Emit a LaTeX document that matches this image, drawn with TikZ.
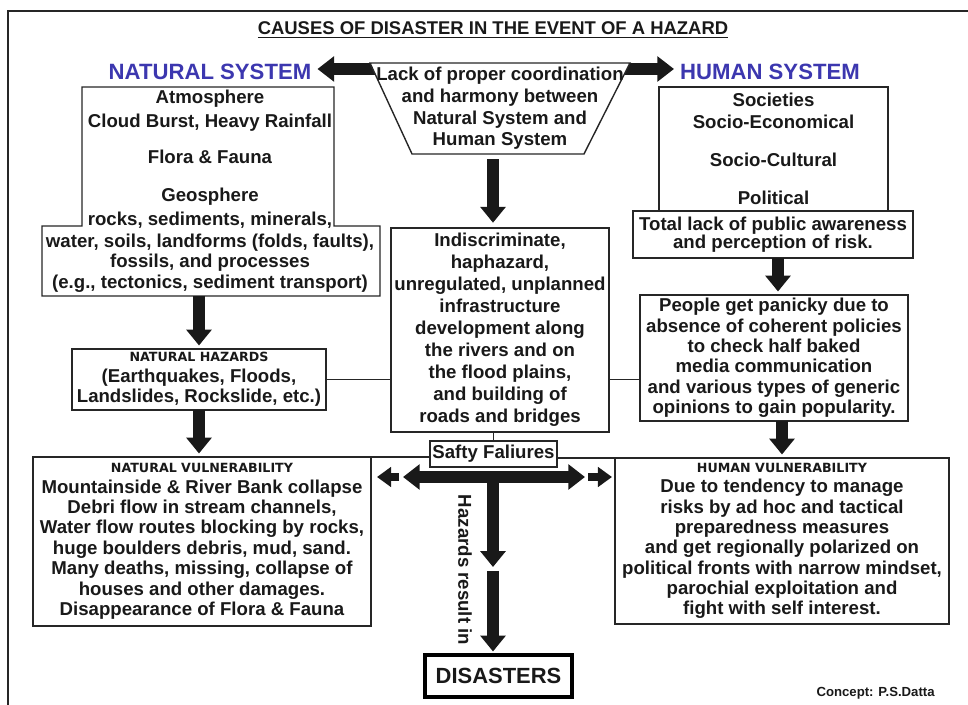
\documentclass[tikz,border=0pt]{standalone}
\usepackage{fontspec}
\setmainfont{Liberation Sans}
\newfontfamily\hdrfont{DejaVu Sans}
\usepackage{graphicx}
\usetikzlibrary{arrows.meta,backgrounds}
\definecolor{sysblue}{RGB}{60,55,175}
\newcommand{\hd}[1]{{\hdrfont\bfseries\fontsize{7.2}{9}\selectfont #1}}
\tikzset{
  txt/.style={align=center,inner sep=0pt,text=black!90,font=\bfseries\fontsize{10.6}{11.6}\selectfont},
  dbox/.style={txt,draw=black!85,line width=0.8pt,fill=white,outer sep=0pt},
  frame/.style={inner sep=0pt,outer sep=0pt},
  thinlink/.style={draw=black!85,line width=0.8pt},
  fatarrow/.style={line width=7pt,black!90,-{Triangle[length=9pt,width=14pt]}},
  fatboth/.style={line width=6.5pt,black!90,{Triangle[length=9.5pt,width=14pt]}-{Triangle[length=9.5pt,width=14pt]}},
  stubarrow/.style={line width=5pt,black!90,-{Triangle[length=8pt,width=11pt]}},
  sysname/.style={text=sysblue,font=\bfseries\fontsize{12.6}{14}\selectfont}
}
\begin{document}
\begin{tikzpicture}[x=0.02cm,y=-0.02cm]
\useasboundingbox (0,0) rectangle (968,705);
\draw[line width=1.2pt,black!85] (8,705) |- (968,11);
\node[txt,font=\bfseries\fontsize{10.5}{12}\selectfont] (title) at (493,30) {\underline{CAUSES OF DISASTER IN THE EVENT OF A HAZARD}};
\node[sysname] (natsys) at (210,72) {NATURAL SYSTEM};
\node[sysname] (humsys) at (770,72) {HUMAN SYSTEM};
% natural system
\node[frame,minimum width=5.04cm,minimum height=2.78cm] (natup) at (208,156.5) {};
\node[frame,minimum width=6.76cm,minimum height=1.4cm] (natlow) at (211,261) {};
\draw[thinlink,fill=white] (natup.north west) -- (natup.north east) -- (natup.south east) -- (natlow.north east) -- (natlow.south east) -- (natlow.south west) -- (natlow.north west) -- (natup.south west) -- cycle;
\node[txt] (natitems) at (210,191) {Atmosphere\\[2pt] Cloud Burst, Heavy Rainfall\\[9pt] Flora \& Fauna\\[10pt] Geosphere\\[2pt] rocks, sediments, minerals,\\[1pt] water, soils, landforms (folds, faults),\\ fossils, and processes\\ (e.g., tectonics, sediment transport)};
\node[dbox,minimum width=5.08cm,minimum height=1.22cm] (nathaz) at (199,379.5) {\hd{NATURAL HAZARDS}\\(Earthquakes, Floods,\\Landslides, Rockslide, etc.)};
\node[dbox,minimum width=6.76cm,minimum height=3.38cm] (natvul) at (202,541.5) {\hd{NATURAL VULNERABILITY}\\Mountainside \& River Bank collapse\\Debri flow in stream channels,\\Water flow routes blocking by rocks,\\huge boulders debris, mud, sand.\\Many deaths, missing, collapse of\\houses and other damages.\\Disappearance of Flora \& Fauna};
% centre
\node[txt,frame,minimum width=5.2cm,minimum height=1.82cm,font=\bfseries\fontsize{10.6}{12.4}\selectfont] (lack) at (500,108.5) {Lack of proper coordination\\and harmony between\\Natural System and\\Human System};
\node[dbox,minimum width=4.36cm,minimum height=4.08cm,font=\bfseries\fontsize{10.6}{12.5}\selectfont] (infra) at (500,330) {Indiscriminate,\\haphazard,\\unregulated, unplanned\\infrastructure\\development along\\the rivers and on\\the flood plains,\\and building of\\roads and bridges};
\node[dbox,minimum width=2.54cm,minimum height=0.52cm] (safety) at (493.5,454) {Safty Faliures};
\node[dbox,draw=black,line width=2.5pt,minimum width=2.94cm,minimum height=0.84cm,font=\bfseries\fontsize{12.5}{14}\selectfont] (disasters) at (498.5,676) {DISASTERS};
\node[txt,rotate=-90] (hazres) at (465,570) {Hazards result in};
% human system
\node[dbox,minimum width=4.58cm,minimum height=2.48cm] (humup) at (773.5,149) {Societies\\[1pt] Socio-Economical\\[10pt] Socio-Cultural\\[10pt] Political};
\node[dbox,minimum width=5.6cm,minimum height=0.94cm,font=\bfseries\fontsize{10.6}{10.4}\selectfont] (aware) at (773,234.5) {Total lack of public awareness\\and perception of risk.};
\node[dbox,minimum width=5.36cm,minimum height=2.52cm] (panic) at (774,358) {People get panicky due to\\absence of coherent policies\\to check half baked\\media communication\\and various types of generic\\opinions to gain popularity.};
\node[dbox,minimum width=6.68cm,minimum height=3.32cm] (humvul) at (782,541) {\hd{HUMAN VULNERABILITY}\\Due to tendency to manage\\risks by ad hoc and tactical\\preparedness measures\\and get regionally polarized on\\political fronts with narrow mindset,\\parochial exploitation and\\fight with self interest.};
\node[txt,anchor=east,font=\bfseries\fontsize{7.5}{9}\selectfont] (concept) at (935,693) {Concept: P.S.Datta};
\begin{scope}[on background layer]
\draw[fatboth] ([yshift=0.06cm]natsys.east) -- ([yshift=0.06cm]humsys.west);
\draw[thinlink,fill=white] (lack.north west) -- (lack.north east) -- ([xshift=-0.92cm]lack.south east) -- ([xshift=0.84cm]lack.south west) -- cycle;
\end{scope}
% connectors
\draw[fatarrow,shorten >=2pt] (nathaz.north |- natlow.south) -- (nathaz.north);
\draw[fatarrow,shorten >=2pt] (nathaz.south) -- (nathaz.south |- natvul.north);
\draw[fatarrow,shorten <=3pt,shorten >=3pt] ([xshift=-0.14cm]lack.south) -- ([xshift=-0.14cm]infra.north);
\draw[fatarrow,shorten >=2pt] ([xshift=0.1cm]aware.south) -- ([xshift=0.1cm]aware.south |- panic.north);
\draw[fatarrow,shorten >=2pt] (humvul.north |- panic.south) -- (humvul.north);
\draw[thinlink] (nathaz.east) -- (nathaz.east -| infra.west);
\draw[thinlink] (infra.east |- nathaz.east) -- (panic.west |- nathaz.east);
\draw[thinlink] (safety.north |- infra.south) -- (safety.north);
\draw[thinlink] (safety.west |- natvul.north) -- (natvul.north east);
\draw[thinlink] (safety.east |- humvul.north) -- (humvul.north west);
\coordinate (hub) at (493,477);
\coordinate (hubL) at (403,477);
\coordinate (hubR) at (585,477);
\coordinate (stubL) at (399,477);
\coordinate (tipL) at (377,477);
\coordinate (stubR) at (588,477);
\coordinate (tipR) at (612,477);
\coordinate (midA) at (493,567);
\coordinate (midB) at (493,571);
\draw[fatboth] (hubL) -- (hubR);
\draw[stubarrow] (stubL) -- (tipL);
\draw[stubarrow] (stubR) -- (tipR);
\draw[fatarrow] (hub) -- (midA);
\draw[fatarrow,shorten >=2pt] (midB) -- (midB |- disasters.north);
\end{tikzpicture}
\end{document}
